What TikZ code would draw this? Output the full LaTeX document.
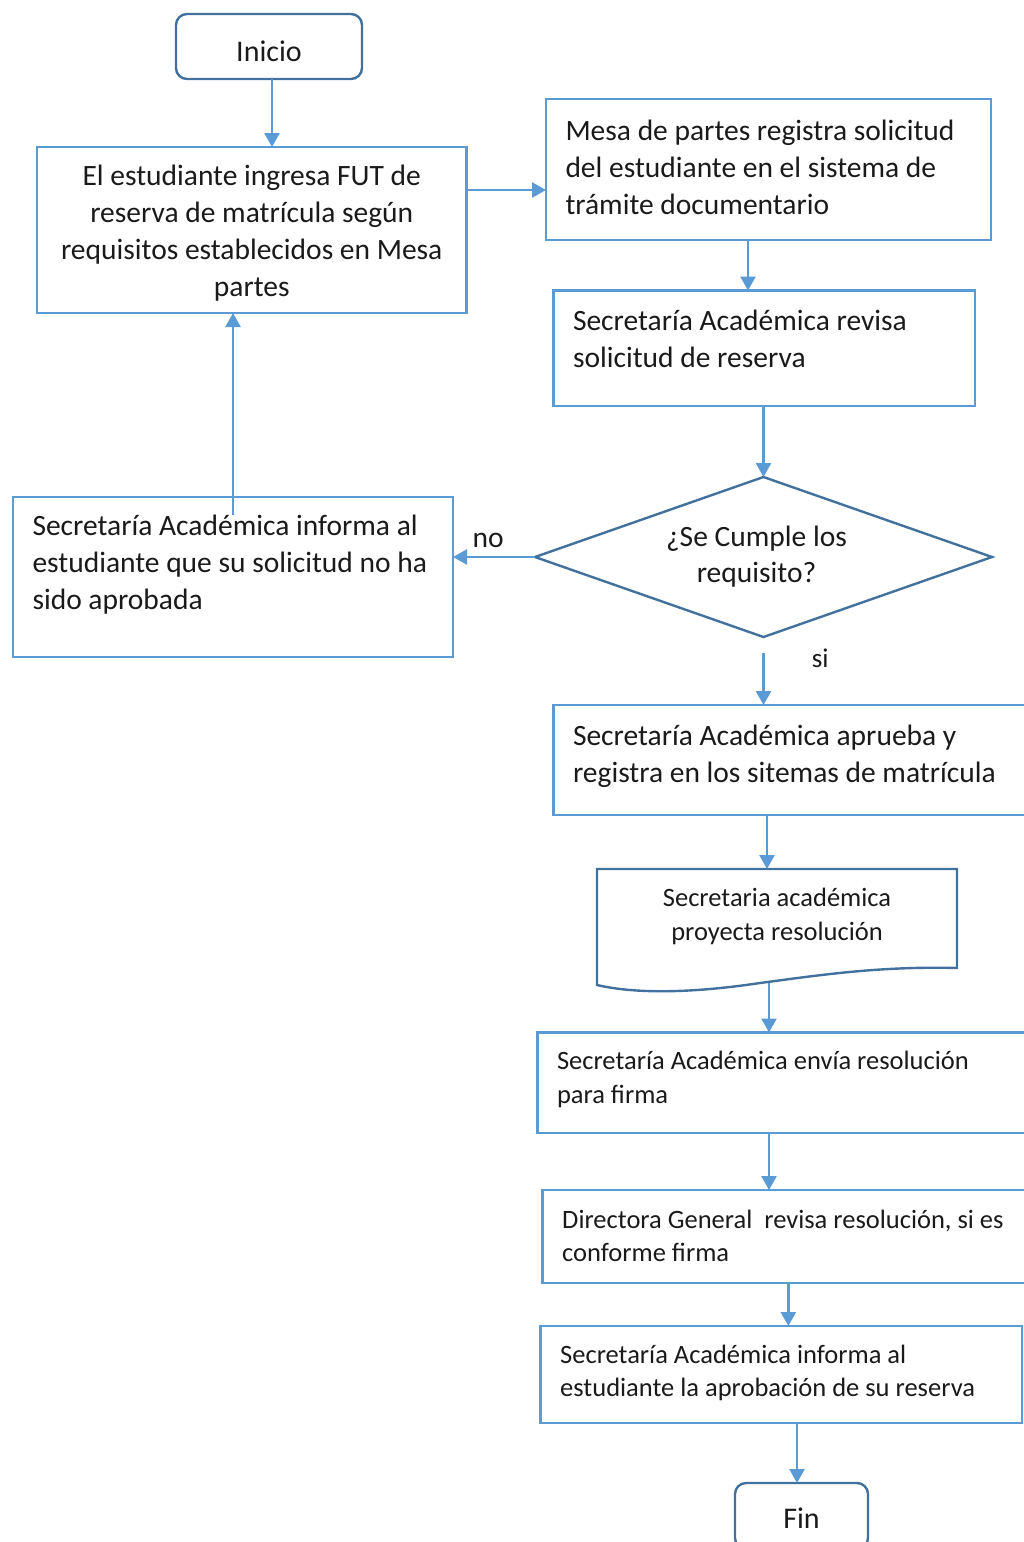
\documentclass[tikz,border=0pt]{standalone}
\usepackage{fontspec}
\setmainfont{Carlito}
\usetikzlibrary{shapes.geometric,arrows.meta}
\definecolor{boxblue}{HTML}{5B9BD5}
\definecolor{edgeblue}{HTML}{41719C}
\definecolor{inktext}{HTML}{1A1A1A}
% fixed-size text body: height, width, alignment, first-baseline offset, text
\newcommand{\boxbody}[5]{\parbox[c][#1][t]{#2}{#3\rule{0pt}{#4}#5}}

\begin{document}
\begin{tikzpicture}[x=1pt,y=-1pt,
  every node/.style={outer sep=0pt, text=inktext},
  stepbox/.style={draw=boxblue, line width=2.6pt, rectangle, anchor=north west,
    inner xsep=19.5pt, inner ysep=0pt, font=\fontsize{29.5}{37}\selectfont},
  lowbox/.style={stepbox, font=\fontsize{26.5}{33.5}\selectfont},
  terminal/.style={draw=edgeblue, line width=2.4pt, rounded corners=11pt,
    font=\fontsize{30}{36}\selectfont, text depth=0pt},
  decision/.style={diamond, aspect=2.86, draw=edgeblue, line width=2.4pt,
    inner sep=0pt, align=center, font=\fontsize{29.5}{36}\selectfont},
  flow/.style={draw=boxblue, line width=2.6pt, -{Triangle[width=15pt,length=14pt]}},
  tag/.style={font=\fontsize{29.5}{36}\selectfont},
  smalltag/.style={font=\fontsize{27}{33}\selectfont}
]
\useasboundingbox (0,0) rectangle (1024,1542);
\clip (0,0) rectangle (1024,1542);

% terminals
\node[terminal, minimum width=186pt, minimum height=65pt, text height=29pt] (inicio) at (269,46.5) {Inicio};
\node[terminal, minimum width=133pt, minimum height=66pt, text height=24pt] (fin) at (801.5,1516) {Fin};

% process steps
\node[stepbox] (b1) at (37,147) {\boxbody{166pt}{390.5pt}{\centering}{38pt}{El estudiante ingresa FUT de\\ reserva de matrícula según\\ requisitos establecidos en Mesa\\ partes}};
\node[stepbox] (b2) at (546,99) {\boxbody{141pt}{406pt}{\raggedright}{41pt}{Mesa de partes registra solicitud\\ del estudiante en el sistema de\\ trámite documentario}};
\node[stepbox] (b3) at (553.5,290.5) {\boxbody{115.5pt}{382.5pt}{\raggedright}{39.5pt}{Secretaría Académica revisa\\ solicitud de reserva}};
\node[stepbox] (b4) at (13,497) {\boxbody{160pt}{401pt}{\raggedright}{38pt}{Secretaría Académica informa al\\ estudiante que su solicitud no ha\\ sido aprobada}};
\node[stepbox] (b5) at (553.5,705) {\boxbody{110pt}{447.5pt}{\raggedright}{40pt}{Secretaría Académica aprueba y\\ registra en los sitemas de matrícula}};
\node[stepbox, draw=none, inner xsep=0pt, font=\fontsize{26.5}{33.5}\selectfont] (doc) at (597,869) {\boxbody{116pt}{360pt}{\centering}{37.7pt}{Secretaria académica\\ proyecta resolución}};
\node[lowbox] (b6) at (537.5,1032.5) {\boxbody{100.5pt}{463.5pt}{\raggedright}{37.3pt}{Secretaría Académica envía resolución\\ para firma}};
\node[lowbox] (b7) at (542.7,1190) {\boxbody{93pt}{458.3pt}{\raggedright}{38.3pt}{Directora General\ \ revisa resolución, si es\\ conforme firma}};
\node[lowbox] (b8) at (540.7,1326) {\boxbody{97pt}{442.3pt}{\raggedright}{37.3pt}{Secretaría Académica informa al\\ estudiante la aprobación de su reserva}};

% decision
\node[decision, minimum width=457pt, minimum height=160pt] (dia) at (763.5,557) {¿Se Cumple los\hspace*{14pt}\\ requisito?\hspace*{14pt}};

% document outline with wavy lower edge
\draw[draw=edgeblue, line width=2.4pt, line join=miter]
  (597,985) -- (597,869) -- (957,869) -- (957,968)
  .. controls (880,966) and (820,975) .. (760,983)
  .. controls (700,992) and (640,995) .. (597,985) -- cycle;

% connectors
\draw[flow] ([xshift=3pt]inicio.south) -- ([xshift=3pt]inicio.south |- b1.north);
\coordinate (j1) at ([yshift=40pt]b1.east);
\draw[flow] (j1) -- (j1 -| b2.west);
\draw[flow] ([xshift=-20.5pt]b2.south) -- ([xshift=-20.5pt]b2.south |- b3.north);
\draw[flow] (dia.north |- b3.south) -- (dia.north);
\draw[flow] (dia.west) -- (dia.west -| b4.east) node[tag, pos=0.57, above=6pt] {no};
\draw[flow] ([yshift=-18pt]b4.north) -- (b4.north |- b1.south);
\draw[flow] ([yshift=-16pt]dia.south) -- (dia.south |- b5.north) node[smalltag, pos=0.1, right=45pt] {si};
\draw[flow] ([xshift=-10pt]doc.north |- b5.south) -- ([xshift=-10pt]doc.north);
\coordinate (docout) at (769,983);
\draw[flow] (docout) -- (docout |- b6.north);
\draw[flow] (docout |- b6.south) -- (docout |- b7.north);
\draw[flow] ([xshift=-3pt]b7.south) -- ([xshift=-3pt]b7.south |- b8.north);
\draw[flow] ([xshift=-4.5pt]fin.north |- b8.south) -- ([xshift=-4.5pt]fin.north);
\end{tikzpicture}
\end{document}
